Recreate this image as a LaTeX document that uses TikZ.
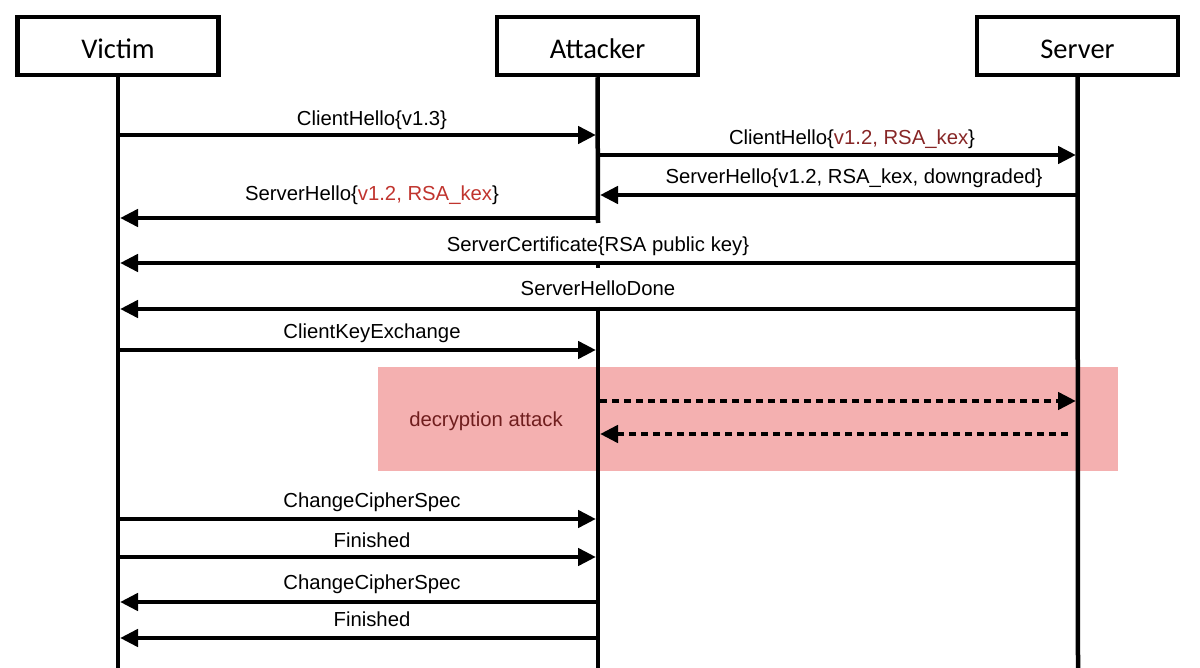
\documentclass[tikz,border=0pt]{standalone}
\usepackage{fontspec}
\setmainfont{Liberation Sans}
\newfontfamily\boxfont{Carlito}
\usetikzlibrary{arrows.meta}
\definecolor{redA}{RGB}{192,52,46}
\definecolor{redB}{RGB}{135,38,38}
\definecolor{pinkbg}{RGB}{244,176,176}
\definecolor{attackred}{RGB}{112,30,30}
\tikzset{
  actor/.style={draw=black, line width=4.5pt, minimum width=201pt, minimum height=58pt, inner sep=0pt, text height=26pt, text depth=0pt, font=\boxfont\fontsize{28.5}{30}\selectfont, fill=white},
  life/.style={line width=4.5pt, draw=black},
  msg/.style={line width=4.5pt, -{Triangle[length=18pt,width=17pt]}},
  dmsg/.style={msg, dash pattern=on 7pt off 5pt},
  lbl/.style={anchor=base, font=\fontsize{20.3}{22}\selectfont, inner sep=0pt},
}
\begin{document}
\begin{tikzpicture}[x=1pt,y=-1pt]
\useasboundingbox (0,0) rectangle (1200,668);
% attack region
\fill[pinkbg] (378,367) rectangle (1118,471);
\node[lbl, text=attackred] (atk) at (486,426) {decryption attack};
% actors
\node[actor] (V) at (118,46) {Victim};
\node[actor] (A) at (597.5,46) {Attacker};
\node[actor] (S) at (1077.5,46) {Server};
% lifeline coordinates
\coordinate (Vb) at (118,668);
\coordinate (Sb) at (1078,668);
\coordinate (Ag1) at (598,223);
\coordinate (Ag2) at (598,261);
\coordinate (Ag3) at (598,268);
\coordinate (Ag4) at (598,307);
\coordinate (Ab) at (598,668);
\draw[life] (V.south) -- (Vb);
\draw[life] (S.south) -- (Sb);
\draw[life] (A.south) -- (Ag1);
\draw[life] (Ag2) -- (Ag3);
\draw[life] (Ag4) -- (Ab);
% message end points
\foreach \n/\y in {1/135,2/155,3/195,4/218,5/263,6/309,7/350,8/401,9/434,10/519,11/557,12/602,13/638}{
  \coordinate (v\n) at (120,\y);
  \coordinate (a\n) at (596,\y);
  \coordinate (al\n) at (600,\y);
  \coordinate (s\n) at (1076,\y);
}
\coordinate (s9) at (1068,434);
% messages
\draw[msg] (v1) -- node[lbl, xshift=14pt, yshift=9pt] {ClientHello\{v1.3\}} (a1);
\draw[msg] (al2) -- node[lbl, xshift=14pt, yshift=10pt] {ClientHello\{\textcolor{redB}{v1.2, RSA\_kex}\}} (s2);
\draw[msg] (s3) -- node[lbl, xshift=16pt, yshift=11pt] {ServerHello\{v1.2, RSA\_kex, downgraded\}} (al3);
\draw[msg] (a4) -- node[lbl, xshift=14pt, yshift=17pt] {ServerHello\{\textcolor{redA}{v1.2, RSA\_kex}\}} (v4);
\draw[msg] (s5) -- node[lbl, xshift=0pt, yshift=11pt] {ServerCertificate\{RSA public key\}} (v5);
\draw[msg] (s6) -- node[lbl, xshift=0pt, yshift=13pt] {ServerHelloDone} (v6);
\draw[msg] (v7) -- node[lbl, xshift=14pt, yshift=11pt] {ClientKeyExchange} (a7);
\draw[dmsg] (al8) -- (s8);
\draw[dmsg] (s9) -- (al9);
\draw[msg] (v10) -- node[lbl, xshift=14pt, yshift=12pt] {ChangeCipherSpec} (a10);
\draw[msg] (v11) -- node[lbl, xshift=14pt, yshift=10pt] {Finished} (a11);
\draw[msg] (a12) -- node[lbl, xshift=14pt, yshift=13pt] {ChangeCipherSpec} (v12);
\draw[msg] (a13) -- node[lbl, xshift=14pt, yshift=12pt] {Finished} (v13);
\end{tikzpicture}
\end{document}
